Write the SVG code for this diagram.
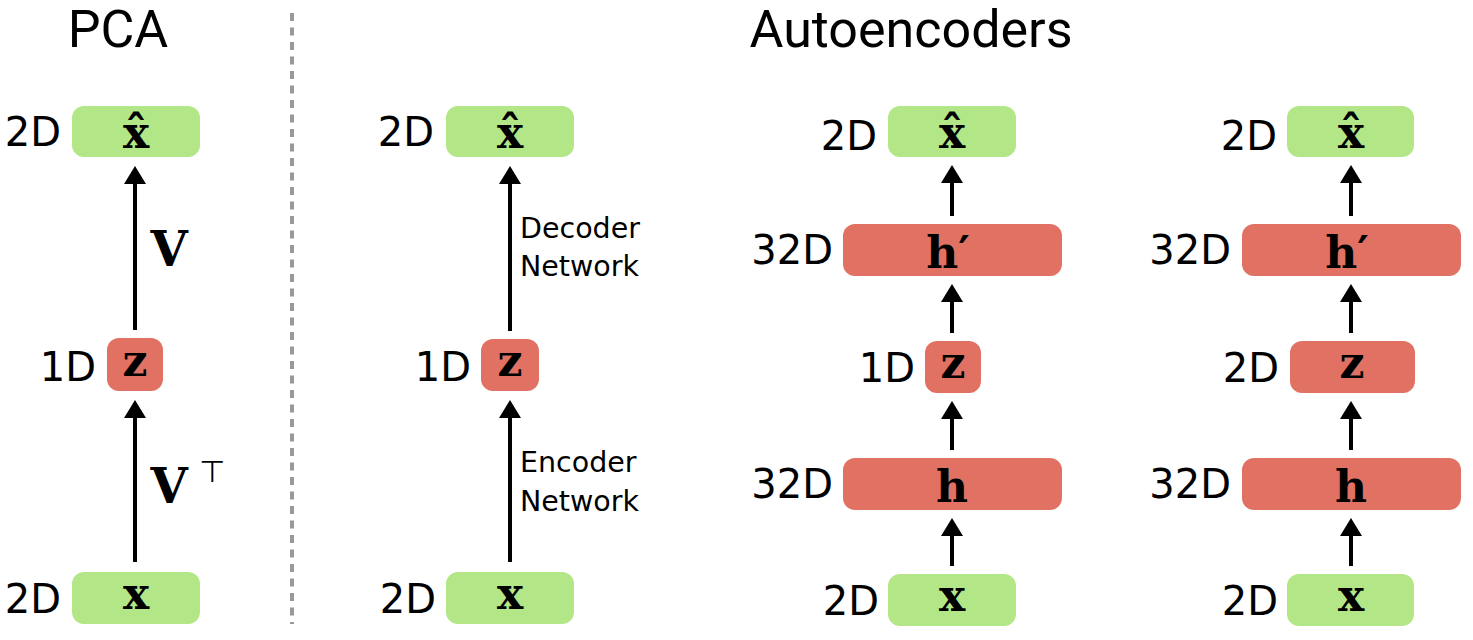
<svg xmlns="http://www.w3.org/2000/svg" width="1473" height="640" viewBox="0 0 1473 640">
<style>
.g{fill:#b3e686}
.r{fill:#e07163}
.m{font-family:"DejaVu Serif",serif;font-weight:bold;font-size:44px;text-anchor:middle;fill:#000}
.v{font-family:"DejaVu Serif",serif;font-weight:bold;font-size:48px;text-anchor:middle;fill:#000}
.d{font-family:"DejaVu Sans",sans-serif;font-size:40px;text-anchor:end;fill:#000}
.t{font-family:Roboto,sans-serif;font-size:52px;text-anchor:middle;fill:#000}
.n{font-family:"DejaVu Sans",sans-serif;font-size:28.5px;fill:#000}
.a{stroke:#000;stroke-width:4;fill:none;marker-end:url(#ah)}
</style>
<defs>
<marker id="ah" markerUnits="userSpaceOnUse" markerWidth="18" markerHeight="22" refX="6" refY="11" orient="auto">
<path d="M0,0 L18,11 L0,22 Z" fill="#000"/>
</marker>
</defs>
<rect width="1473" height="640" fill="#fff"/>
<text class="t" x="118" y="47">PCA</text>
<text class="t" x="911" y="47">Autoencoders</text>
<line x1="292" y1="13" x2="292" y2="624" stroke="#999" stroke-width="4" stroke-dasharray="8 6.5"/>

<g id="connectors">
<line class="a" x1="135" y1="562" x2="135" y2="412"/>
<line class="a" x1="135" y1="330" x2="135" y2="178"/>
<line class="a" x1="510" y1="562" x2="510" y2="412"/>
<line class="a" x1="510" y1="331" x2="510" y2="178"/>
<line class="a" x1="952" y1="566" x2="952" y2="530"/>
<line class="a" x1="952" y1="450" x2="952" y2="413"/>
<line class="a" x1="952" y1="333" x2="952" y2="296"/>
<line class="a" x1="952" y1="216" x2="952" y2="177"/>
<line class="a" x1="1351" y1="566" x2="1351" y2="530"/>
<line class="a" x1="1351" y1="450" x2="1351" y2="413"/>
<line class="a" x1="1351" y1="333" x2="1351" y2="296"/>
<line class="a" x1="1351" y1="216" x2="1351" y2="177"/>
</g>
<text class="v" x="169" y="266">V</text>
<text class="v" x="169" y="503">V</text>
<text x="212" y="482" style="font-family:'DejaVu Sans',sans-serif;font-size:30px;text-anchor:middle">⊤</text>
<text class="n" x="520" y="238">Decoder</text>
<text class="n" x="520" y="276">Network</text>
<text class="n" x="520" y="472">Encoder</text>
<text class="n" x="520" y="511">Network</text>

<!-- PCA column -->
<g id="pca-xhat"><rect class="g" x="72" y="106" width="128" height="51" rx="12"/><text class="m" x="136" y="148">x̂</text><text class="d" x="61" y="146">2D</text></g>
<g id="pca-z"><rect class="r" x="107" y="338" width="56" height="53" rx="12"/><text class="m" x="135" y="376">z</text><text class="d" x="96" y="381">1D</text></g>
<g id="pca-x"><rect class="g" x="72" y="572" width="128" height="52" rx="12"/><text class="m" x="136" y="609">x</text><text class="d" x="61" y="613">2D</text></g>

<!-- AE column 1 -->
<g id="ae1-xhat"><rect class="g" x="446" y="106" width="128" height="51" rx="12"/><text class="m" x="510" y="148">x̂</text><text class="d" x="434" y="146">2D</text></g>
<g id="ae1-z"><rect class="r" x="481" y="339" width="58" height="52" rx="12"/><text class="m" x="510" y="376">z</text><text class="d" x="471" y="381">1D</text></g>
<g id="ae1-x"><rect class="g" x="446" y="572" width="128" height="52" rx="12"/><text class="m" x="510" y="609">x</text><text class="d" x="436" y="613">2D</text></g>

<!-- AE column 2 -->
<g id="ae2-xhat"><rect class="g" x="888" y="106" width="128" height="51" rx="12"/><text class="m" x="952" y="148">x̂</text><text class="d" x="877" y="150">2D</text></g>
<g id="ae2-hp"><rect class="r" x="843" y="224" width="219" height="52" rx="12"/><text class="m" x="948" y="268">h′</text><text class="d" x="833" y="264">32D</text></g>
<g id="ae2-z"><rect class="r" x="925" y="341" width="56" height="52" rx="12"/><text class="m" x="953" y="378">z</text><text class="d" x="915" y="382">1D</text></g>
<g id="ae2-h"><rect class="r" x="843" y="458" width="219" height="52" rx="12"/><text class="m" x="952" y="502">h</text><text class="d" x="833" y="498">32D</text></g>
<g id="ae2-x"><rect class="g" x="888" y="574" width="128" height="52" rx="12"/><text class="m" x="952" y="611">x</text><text class="d" x="879" y="615">2D</text></g>

<!-- AE column 3 -->
<g id="ae3-xhat"><rect class="g" x="1287" y="106" width="127" height="51" rx="12"/><text class="m" x="1351" y="148">x̂</text><text class="d" x="1277" y="150">2D</text></g>
<g id="ae3-hp"><rect class="r" x="1242" y="224" width="219" height="52" rx="12"/><text class="m" x="1347" y="268">h′</text><text class="d" x="1231" y="264">32D</text></g>
<g id="ae3-z"><rect class="r" x="1290" y="341" width="125" height="52" rx="12"/><text class="m" x="1352" y="378">z</text><text class="d" x="1279" y="382">2D</text></g>
<g id="ae3-h"><rect class="r" x="1242" y="458" width="219" height="52" rx="12"/><text class="m" x="1351" y="502">h</text><text class="d" x="1231" y="498">32D</text></g>
<g id="ae3-x"><rect class="g" x="1287" y="574" width="127" height="52" rx="12"/><text class="m" x="1351" y="611">x</text><text class="d" x="1278" y="615">2D</text></g>
</svg>
